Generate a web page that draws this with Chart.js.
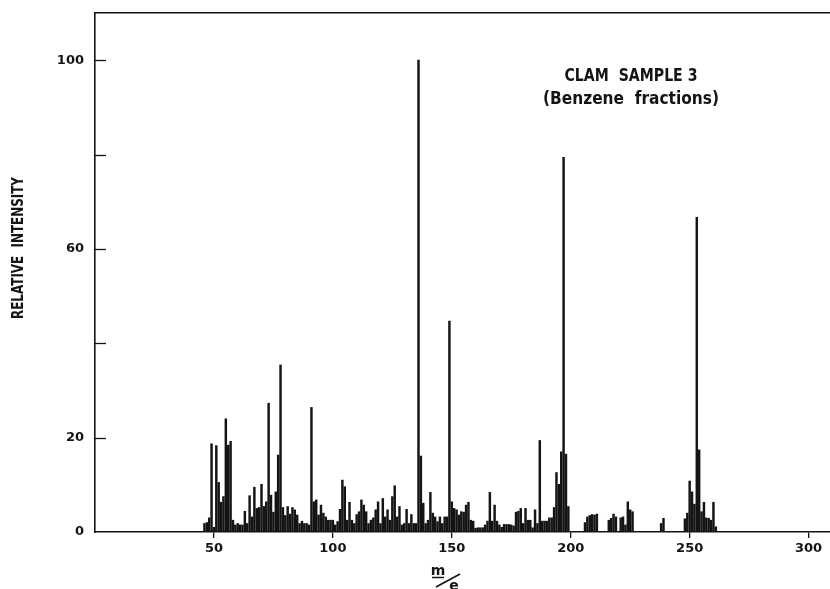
<!DOCTYPE html>
<html>
<head>
<meta charset="utf-8">
<script src="https://cdn.jsdelivr.net/npm/chart.js@4/dist/chart.umd.min.js"></script>
<style>
  html, body { margin: 0; padding: 0; background: #ffffff; }
  #wrap { width: 830px; height: 589px; position: relative; }
</style>
</head>
<body>
<div id="wrap"><canvas id="c" width="830" height="589"></canvas></div>
<script>
// ---- data ----
const masses = [
  46,47,48,49,50,51,52,53,54,55,56,57,58,59,60,61,62,63,64,65,66,67,68,69,70,
  71,72,73,74,75,76,77,78,79,80,81,82,83,84,85,86,87,88,89,90,91,92,93,94,95,
  96,97,98,99,100,101,102,103,104,105,106,107,108,109,110,111,112,113,114,115,
  116,117,118,119,120,121,122,123,124,125,126,127,128,129,130,131,132,133,134,135,
  136,137,138,139,140,141,142,143,144,145,146,147,148,149,150,151,152,153,154,155,
  156,157,158,159,160,161,162,163,164,165,166,167,168,169,170,171,172,173,174,175,
  176,177,178,179,180,181,182,183,184,185,186,187,188,189,190,191,192,193,194,195,
  196,197,198,199,206,207,208,209,210,211,216,217,218,219,221,222,223,224,225,226,
  238,239,248,249,250,251,252,253,254,255,256,257,258,259,260,261
];
const intensities = [
  1.8,2.0,3.0,18.7,1.0,18.3,10.5,6.3,7.5,24.0,18.4,19.2,2.5,1.5,1.8,1.5,1.5,4.4,1.8,7.7,3.2,9.5,5.0,5.2,10.1,
  5.4,6.4,27.3,7.8,4.2,8.5,16.3,35.4,5.2,3.5,5.4,3.8,5.2,4.7,3.6,1.8,2.3,1.8,1.8,1.5,26.4,6.4,6.8,3.6,5.7,
  4.0,3.2,2.5,2.5,2.5,1.5,2.2,4.8,11.0,9.6,2.5,6.3,2.5,1.8,3.7,4.3,6.8,5.7,4.3,1.8,
  2.5,3.0,4.7,6.4,1.8,7.1,3.2,4.7,2.5,7.5,9.8,3.2,5.4,1.5,1.8,4.8,1.8,3.7,1.8,1.8,
  100,16.1,6.1,1.8,2.5,8.4,4.0,3.2,2.2,3.2,1.8,3.2,3.2,44.7,6.4,5.0,4.7,3.6,4.3,4.2,
  5.7,6.3,2.5,2.3,0.8,0.9,0.9,0.9,1.5,2.3,8.4,2.3,5.7,2.3,1.5,1.0,1.6,1.6,1.6,1.5,
  1.3,4.2,4.4,5.0,1.8,5.0,2.5,2.5,0.9,4.7,1.8,19.4,2.3,2.3,2.3,3.0,3.0,5.2,12.6,10.1,
  17.0,79.4,16.5,5.4,2.0,3.2,3.5,3.7,3.6,3.8,2.5,2.9,3.8,3.2,3.0,3.2,1.5,6.4,4.7,4.3,
  1.8,2.9,2.8,4.0,10.8,8.5,5.9,66.7,17.4,4.3,6.3,3.0,2.9,2.5,6.3,1.1
];
const xTickLabels = [50, 100, 150, 200, 250, 300];
const yTickLabels = [0, 20, 60, 100];
const titleLines = ['CLAM  SAMPLE 3', '(Benzene  fractions)'];
const yTitle = 'RELATIVE  INTENSITY';
const xTitleTop = 'm';
const xTitleBottom = 'e';

// ---- chart ----
const INK = '#141414';
const CLEAR = 'rgba(0,0,0,0)';
const tickFont = { family: '"DejaVu Sans", sans-serif', size: 13, weight: 'bold' };
const points = masses.map((m, i) => ({ x: m, y: intensities[i] }));

function fitText(ctx, text, cx, cy, width, rotate) {
  ctx.save();
  ctx.translate(cx, cy);
  if (rotate) ctx.rotate(-Math.PI / 2);
  const w = ctx.measureText(text).width;
  ctx.scale(width / w, 1);
  ctx.textAlign = 'center';
  ctx.textBaseline = 'middle';
  ctx.fillText(text, 0, 0);
  ctx.restore();
}

const annotations = {
  id: 'annotations',
  afterDraw(chart) {
    const { ctx, chartArea, scales } = chart;
    const y = scales.y;
    ctx.save();
    // inward tick marks on the y axis
    ctx.strokeStyle = INK;
    ctx.lineWidth = 1.3;
    y.ticks.forEach(t => {
      if (t.value === 0) return;
      const py = Math.round(y.getPixelForValue(t.value)) + 0.5;
      ctx.beginPath();
      ctx.moveTo(chartArea.left, py);
      ctx.lineTo(chartArea.left + 11, py);
      ctx.stroke();
    });
    ctx.fillStyle = INK;
    // title inside plot
    ctx.font = 'bold 18px "DejaVu Sans", sans-serif';
    fitText(ctx, titleLines[0], 631, 76, 133, false);
    ctx.font = 'bold 17px "DejaVu Sans", sans-serif';
    fitText(ctx, titleLines[1], 631, 100, 176, false);
    // y axis title
    ctx.font = 'bold 16px "DejaVu Sans", sans-serif';
    fitText(ctx, yTitle, 19, 248, 142, true);
    // x axis title m/e
    ctx.font = 'bold 14px "DejaVu Sans", sans-serif';
    ctx.textAlign = 'center';
    ctx.textBaseline = 'middle';
    ctx.fillText(xTitleTop, 438, 571);
    ctx.fillText(xTitleBottom, 454, 586);
    ctx.lineWidth = 1.6;
    ctx.beginPath();
    ctx.moveTo(432, 577.5);
    ctx.lineTo(444, 577.5);
    ctx.moveTo(436, 587);
    ctx.lineTo(460, 574);
    ctx.stroke();
    ctx.restore();
  }
};

new Chart(document.getElementById('c').getContext('2d'), {
  type: 'bar',
  data: {
    datasets: [{
      data: points,
      backgroundColor: INK,
      borderWidth: 0,
      barThickness: 1.8
    }]
  },
  options: {
    responsive: false,
    animation: false,
    events: [],
    layout: { padding: 0 },
    plugins: { legend: { display: false }, tooltip: { enabled: false }, title: { display: false } },
    scales: {
      x: {
        type: 'linear', position: 'bottom', min: 0, max: 309, offset: false,
        ticks: {
          stepSize: 50, includeBounds: false, autoSkip: false, maxRotation: 0,
          color: INK, font: tickFont, padding: 3,
          callback: v => xTickLabels.includes(v) ? String(v) : ''
        },
        grid: {
          display: true, offset: false, drawOnChartArea: false, drawTicks: true, tickLength: 6,
          color: INK, lineWidth: 1.3,
          tickColor: c => (c.tick && c.tick.value === 0) ? CLEAR : INK
        },
        border: { display: true, color: INK, width: 1.6 },
        afterFit: s => { s.height = 57; }
      },
      xTop: {
        type: 'linear', position: 'top', min: 0, max: 309,
        ticks: { display: false },
        grid: { display: false, drawTicks: false },
        border: { display: true, color: INK, width: 1.6 },
        afterFit: s => { s.height = 13; }
      },
      y: {
        type: 'linear', position: 'left', min: 0, max: 110,
        ticks: {
          stepSize: 20, includeBounds: false, color: INK, font: tickFont, padding: 3,
          callback: v => yTickLabels.includes(v) ? String(v) : ''
        },
        grid: { display: true, offset: false, drawOnChartArea: false, drawTicks: true, tickLength: 8, tickColor: CLEAR, color: CLEAR },
        border: { display: true, color: INK, width: 1.6 },
        afterFit: s => { s.width = 95; }
      }
    }
  },
  plugins: [annotations]
});
</script>
</body>
</html>
